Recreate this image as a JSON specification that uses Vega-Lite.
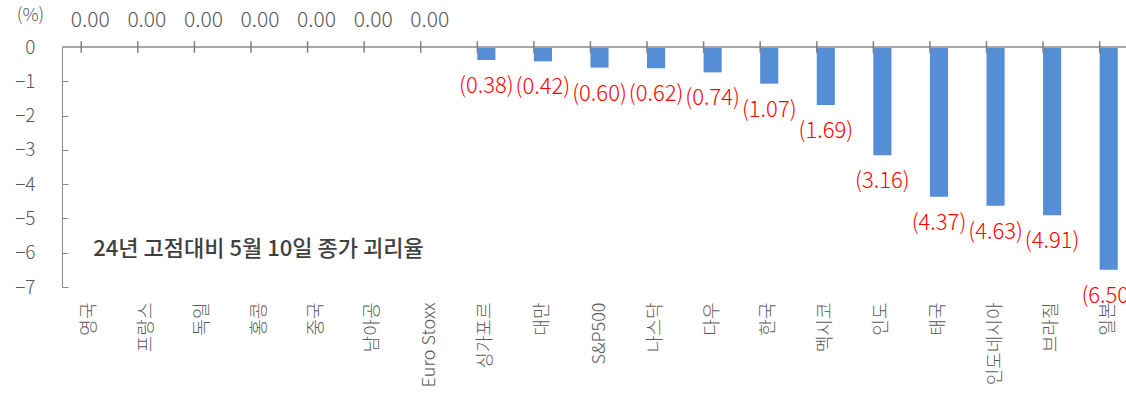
{
  "$schema": "https://vega.github.io/schema/vega-lite/v6.json",
  "autosize": "none",
  "width": 1064,
  "height": 240,
  "padding": {"left": 62, "top": 47, "right": 0, "bottom": 122},
  "background": "white",
  "config": {
    "view": {"stroke": null},
    "font": "Noto Sans CJK KR",
    "axis": {"labelFont": "Noto Sans CJK KR", "titleFont": "Noto Sans CJK KR"},
    "axisY": {
      "labelOverlap": false, "labelFlush": false, "tickCount": 8,
      "grid": false, "domainColor": "#8c8c8c", "tickColor": "#8c8c8c",
      "tickSize": -6, "tickWidth": 1, "labelPadding": 33, "labelFontSize": 19,
      "labelFontWeight": 300, "labelColor": "#595959",
      "titleAngle": 0, "titleX": -32, "titleY": -32,
      "titleAlign": "center", "titleBaseline": "middle",
      "titleFontSize": 18, "titleFontWeight": 300, "titleColor": "#595959"
    }
  },
  "data": {
    "values": [
      {"country": "영국", "value": 0},
      {"country": "프랑스", "value": 0},
      {"country": "독일", "value": 0},
      {"country": "홍콩", "value": 0},
      {"country": "중국", "value": 0},
      {"country": "남아공", "value": 0},
      {"country": "Euro Stoxx", "value": 0},
      {"country": "싱가포르", "value": -0.38},
      {"country": "대만", "value": -0.42},
      {"country": "S&P500", "value": -0.60},
      {"country": "나스닥", "value": -0.62},
      {"country": "다우", "value": -0.74},
      {"country": "한국", "value": -1.07},
      {"country": "멕시코", "value": -1.69},
      {"country": "인도", "value": -3.16},
      {"country": "태국", "value": -4.37},
      {"country": "인도네시아", "value": -4.63},
      {"country": "브라질", "value": -4.91},
      {"country": "일본", "value": -6.50}
    ]
  },
  "layer": [
    {
      "mark": {"type": "bar", "color": "#558ED5"},
      "encoding": {
        "x": {
          "field": "country", "type": "nominal", "sort": null,
          "scale": {"range": [0, 1075], "paddingInner": 0.68, "paddingOuter": 0.34},
          "axis": {
            "orient": "bottom", "title": null, "domain": false, "ticks": false,
            "labelAngle": -90, "labelPadding": 15, "labelFontSize": 18,
            "labelFontWeight": 300,
            "labelColor": "#595959", "labelOverlap": false
          }
        },
        "y": {
          "field": "value", "type": "quantitative",
          "scale": {"domain": [-7, 0], "nice": false, "zero": false},
          "title": "(%)"
        }
      }
    },
    {
      "mark": {"type": "rule", "color": "#a6a6a6", "strokeWidth": 1},
      "encoding": {"y": {"datum": 0}}
    },
    {
      "mark": {"type": "rule", "color": "#808080", "strokeWidth": 1.5, "clip": false},
      "encoding": {
        "x": {"field": "country", "type": "nominal", "sort": null, "bandPosition": 0},
        "y": {"datum": 0.17},
        "y2": {"datum": -0.17}
      }
    },
    {
      "transform": [{"filter": "datum.value === 0"}],
      "mark": {"type": "text", "color": "#595959", "fontSize": 21, "fontWeight": 300, "baseline": "middle", "dy": -26},
      "encoding": {
        "x": {"field": "country", "type": "nominal", "sort": null},
        "y": {"field": "value", "type": "quantitative", "title": "(%)"},
        "text": {"field": "value", "type": "quantitative", "format": ".2f"}
      }
    },
    {
      "transform": [{"filter": "datum.value < 0"}],
      "mark": {"type": "text", "color": "#FF0000", "fontSize": 22, "fontWeight": 300, "baseline": "middle", "dy": 26},
      "encoding": {
        "x": {"field": "country", "type": "nominal", "sort": null},
        "y": {"field": "value", "type": "quantitative", "title": "(%)"},
        "text": {"field": "value", "type": "quantitative", "format": "(.2f"}
      }
    },
    {
      "data": {"values": [{"country": "영국", "value": -5.9, "note": "24년 고점대비 5월 10일 종가 괴리율"}]},
      "mark": {"type": "text", "color": "#404040", "fontSize": 22, "fontWeight": 500, "align": "left", "baseline": "middle", "dx": 3},
      "encoding": {
        "x": {"field": "country", "type": "nominal", "sort": null},
        "y": {"field": "value", "type": "quantitative", "title": "(%)"},
        "text": {"field": "note", "type": "nominal"}
      }
    }
  ]
}
